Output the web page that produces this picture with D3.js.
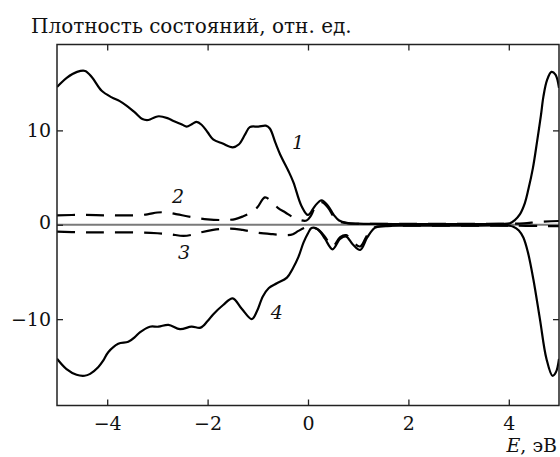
<!DOCTYPE html>
<html>
<head>
<meta charset="utf-8">
<script src="https://cdn.jsdelivr.net/npm/d3@7"></script>
<style>
  body { margin: 0; background: #fff; }
  svg { display: block; }
  text { font-family: "DejaVu Serif", serif; fill: #111; }
</style>
</head>
<body>
<svg id="chart" width="560" height="457"></svg>
<script>
// x ticks, y ticks
var xTicks = [-4, -2, 0, 2, 4];
var yTicks = [-10, 0, 10];

// curve 1: total DOS, spin up (solid)
var curve1E = [-5.0, -4.8, -4.6, -4.44, -4.3, -4.11, -3.91, -3.75, -3.61, -3.45, -3.3, -3.18, -3.05, -2.97, -2.8, -2.68, -2.5, -2.42, -2.3, -2.22, -2.12, -2.0, -1.89, -1.7, -1.5, -1.38, -1.25, -1.16, -0.99, -0.84, -0.76, -0.65, -0.55, -0.39, -0.29, -0.13, 0.0, 0.14, 0.27, 0.4, 0.52, 0.62, 0.77, 1.0, 2.0, 3.0, 3.8, 4.02, 4.12, 4.22, 4.32, 4.39, 4.48, 4.56, 4.64, 4.69, 4.76, 4.85, 4.93, 5.0];
var curve1V = [14.6, 15.6, 16.2, 16.3, 15.6, 14.2, 13.5, 13.1, 12.6, 11.9, 11.2, 11.1, 11.4, 11.5, 11.3, 11.0, 10.6, 10.4, 10.7, 10.9, 10.6, 9.8, 9.05, 8.6, 8.2, 8.5, 9.6, 10.35, 10.4, 10.5, 10.2, 8.7, 7.4, 5.7, 4.5, 2.0, 1.04, 2.0, 2.6, 2.0, 1.0, 0.45, 0.2, 0.12, 0.08, 0.08, 0.1, 0.15, 0.5, 1.1, 2.3, 3.75, 6.0, 8.7, 11.6, 13.6, 15.3, 16.2, 15.9, 14.5];

// curve 2: partial DOS, spin up (dashed)
var curve2E = [-5.0, -4.5, -4.0, -3.5, -3.2, -3.0, -2.8, -2.6, -2.3, -2.0, -1.7, -1.45, -1.29, -1.1, -1.0, -0.86, -0.75, -0.6, -0.45, -0.3, -0.16, -0.03, 0.05, 0.14, 0.27, 0.4, 0.52, 0.62, 0.8, 1.0, 2.0, 3.0, 4.0, 4.3, 4.6, 5.0];
var curve2V = [1.0, 1.05, 1.0, 1.0, 1.1, 1.3, 1.3, 1.1, 0.8, 0.58, 0.5, 0.6, 0.9, 1.4, 1.9, 2.9, 2.6, 1.8, 1.3, 0.8, 0.5, 0.45, 0.9, 1.8, 2.4, 1.8, 0.8, 0.35, 0.15, 0.1, 0.1, 0.1, 0.1, 0.15, 0.3, 0.4];

// curve 3: partial DOS, spin down (dashed)
var curve3E = [-5.0, -4.5, -4.0, -3.3, -3.0, -2.75, -2.48, -2.3, -2.15, -1.89, -1.55, -1.3, -1.02, -0.7, -0.42, -0.3, -0.19, -0.05, 0.07, 0.2, 0.34, 0.49, 0.64, 0.76, 0.89, 1.04, 1.18, 1.33, 1.5, 2.0, 4.0, 5.0];
var curve3V = [-0.72, -0.8, -0.8, -0.83, -0.9, -1.0, -1.18, -1.05, -0.83, -0.55, -0.4, -0.55, -0.83, -1.0, -1.1, -1.0, -0.65, -0.3, -0.3, -0.5, -1.3, -2.3, -1.3, -1.1, -1.8, -2.3, -1.1, -0.25, -0.15, -0.1, -0.1, -0.15];

// curve 4: total DOS, spin down (solid)
var curve4E = [-5.0, -4.81, -4.61, -4.45, -4.34, -4.18, -4.08, -3.98, -3.78, -3.58, -3.45, -3.35, -3.15, -2.98, -2.78, -2.55, -2.32, -2.14, -2.0, -1.89, -1.69, -1.5, -1.32, -1.12, -1.02, -0.9, -0.78, -0.62, -0.42, -0.3, -0.19, -0.09, 0.0, 0.07, 0.17, 0.25, 0.34, 0.49, 0.64, 0.76, 0.89, 1.04, 1.18, 1.33, 1.5, 2.0, 3.0, 4.0, 4.09, 4.2, 4.29, 4.38, 4.49, 4.62, 4.75, 4.87, 4.94, 5.0];
var curve4V = [-14.2, -15.3, -15.9, -16.0, -15.8, -15.1, -14.4, -13.5, -12.6, -12.4, -11.9, -11.4, -10.8, -10.8, -10.6, -11.06, -10.8, -10.9, -10.2, -9.5, -8.5, -7.8, -8.9, -10.0, -9.2, -7.6, -6.7, -6.2, -5.6, -4.6, -3.4, -1.9, -0.9, -0.35, -0.4, -0.8, -1.5, -2.6, -1.5, -1.25, -2.06, -2.66, -1.35, -0.33, -0.15, -0.1, -0.1, -0.1, -0.2, -0.6, -1.35, -2.9, -5.8, -10, -14.2, -16, -15.6, -14.2];

// label positions (data coords, text baseline)
var curveLabels = ['1', '2', '3', '4'];
var labelE = [-0.2, -2.59, -2.47, -0.62];
var labelV = [8.0, 2.3, -3.65, -10.0];

(function () {
  'use strict';

  var svg = d3.select('#chart');
  var left = 57, right = 559, top = 44.5, bottom = 405.5;
  var fontSize = '19px';

  var x = d3.scaleLinear().domain([-5, 5]).range([left, right]);
  var y = d3.scaleLinear().domain([-19.15, 19.1]).range([bottom, top]);

  svg.append('defs').append('clipPath').attr('id', 'clip')
    .append('rect')
    .attr('x', left).attr('y', top)
    .attr('width', right - left).attr('height', bottom - top);

  // zero line
  svg.append('line')
    .attr('x1', left).attr('x2', right)
    .attr('y1', y(0)).attr('y2', y(0))
    .attr('stroke', '#7a7a7a')
    .attr('stroke-width', 2);

  var line = d3.line()
    .x(function (d) { return x(d[0]); })
    .y(function (d) { return y(d[1]); })
    .curve(d3.curveCatmullRom.alpha(0.5));

  var series = [
    { e: curve1E, v: curve1V, dash: null },
    { e: curve4E, v: curve4V, dash: null },
    { e: curve2E, v: curve2V, dash: '18,11' },
    { e: curve3E, v: curve3V, dash: '18,11' }
  ];

  var plot = svg.append('g').attr('clip-path', 'url(#clip)');
  series.forEach(function (s) {
    plot.append('path')
      .datum(d3.zip(s.e, s.v))
      .attr('d', line)
      .attr('fill', 'none')
      .attr('stroke', '#000')
      .attr('stroke-width', 2.2)
      .attr('stroke-linejoin', 'round')
      .attr('stroke-dasharray', s.dash);
  });

  // axes
  var gBottom = svg.append('g')
    .attr('transform', 'translate(0,' + bottom + ')')
    .call(d3.axisBottom(x).tickValues(xTicks).tickSize(-6).tickPadding(11));
  var gTop = svg.append('g')
    .attr('transform', 'translate(0,' + top + ')')
    .call(d3.axisTop(x).tickValues(xTicks).tickSize(-6).tickFormat(''));
  var gLeft = svg.append('g')
    .attr('transform', 'translate(' + left + ',0)')
    .call(d3.axisLeft(y).tickValues(yTicks).tickSize(-6).tickPadding(6));
  var gRight = svg.append('g')
    .attr('transform', 'translate(' + right + ',0)')
    .call(d3.axisRight(y).tickValues([-10, 10]).tickSize(-6).tickFormat(''));

  [gBottom, gTop, gLeft, gRight].forEach(function (g) {
    g.select('.domain').remove();
    g.selectAll('.tick line').attr('stroke', '#222').attr('stroke-width', 1.3);
    g.selectAll('text')
      .attr('fill', '#111')
      .style('font-family', '"DejaVu Serif", serif')
      .style('font-size', fontSize);
  });
  // the "0" label sits a little above the zero line
  gLeft.selectAll('.tick text').filter(function (d) { return d === 0; })
    .attr('dy', '0.2em');

  // frame
  svg.append('rect')
    .attr('x', left).attr('y', top)
    .attr('width', right - left).attr('height', bottom - top)
    .attr('fill', 'none')
    .attr('stroke', '#222')
    .attr('stroke-width', 1.5);

  // curve labels
  svg.selectAll('.clabel')
    .data(curveLabels)
    .enter().append('text')
    .attr('class', 'clabel')
    .attr('x', function (d, i) { return x(labelE[i]); })
    .attr('y', function (d, i) { return y(labelV[i]); })
    .attr('text-anchor', 'middle')
    .style('font-style', 'italic')
    .style('font-size', fontSize)
    .text(function (d) { return d; });

  // title and axis label
  svg.append('text')
    .attr('x', 31).attr('y', 33)
    .style('font-size', '20px')
    .text('Плотность состояний, отн. ед.');

  var xl = svg.append('text')
    .attr('x', 557).attr('y', 452)
    .attr('text-anchor', 'end')
    .style('font-size', fontSize);
  xl.append('tspan').style('font-style', 'italic').text('E');
  xl.append('tspan').text(', эВ');
})();
</script>
</body>
</html>
